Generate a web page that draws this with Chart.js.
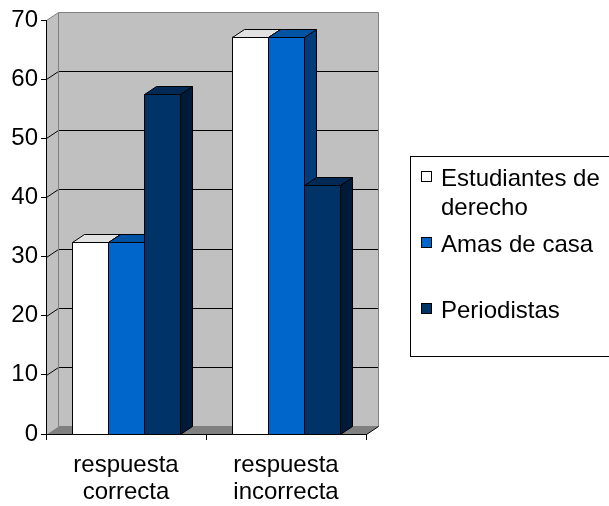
<!DOCTYPE html>
<html>
<head>
<meta charset="utf-8">
<script src="https://cdn.jsdelivr.net/npm/chart.js@4/dist/chart.umd.min.js"></script>
<style>
  html, body { margin:0; padding:0; background:#fff; width:609px; height:506px; overflow:hidden; }
  #wrap { position:relative; width:609px; height:506px; }
  canvas { position:absolute; left:0; top:0; }
  #legend { position:absolute; left:410px; top:156px; width:230px; height:201px; border:1px solid #000; box-sizing:border-box; }
  .lg-text { position:absolute; left:441px; font-family:"Liberation Sans", Arial, sans-serif; font-size:24px; line-height:29px; color:#000; white-space:nowrap; }
  .lg-mark { position:absolute; left:421px; width:11px; height:11px; border:1px solid #000; box-sizing:border-box; }
</style>
</head>
<body>
<div id="wrap">
  <canvas id="c" width="609" height="506"></canvas>
  <div id="legend"></div>
</div>
<script>
// ---- data ----
const categories = [['respuesta', 'correcta'], ['respuesta', 'incorrecta']];
const seriesNames = ['Estudiantes de derecho', 'Amas de casa', 'Periodistas'];
const estudiantes = [32.4, 67.2];
const amasDeCasa = [32.4, 67.2];
const periodistas = [57.5, 42.1];
const yTicks = [0, 10, 20, 30, 40, 50, 60, 70];

// ---- styles ----
const frontColors = ['#FFFFFF', '#0066CC', '#003366'];
const topColors   = ['#E2E2E2', '#0052A3', '#002A55'];
const sideColors  = ['#B8B8B8', '#003C7A', '#001B38'];
const DX = 12, DY = -8;
const FONT = { family: '"Liberation Sans", Arial, sans-serif', size: 24, lineHeight: 1.16 };

function poly(ctx, pts, fill) {
  ctx.beginPath();
  ctx.moveTo(pts[0][0], pts[0][1]);
  for (let i = 1; i < pts.length; i++) ctx.lineTo(pts[i][0], pts[i][1]);
  ctx.closePath();
  if (fill) { ctx.fillStyle = fill; ctx.fill(); }
  ctx.strokeStyle = '#000'; ctx.lineWidth = 1; ctx.stroke();
}

const wallsPlugin = {
  id: 'walls',
  beforeDraw(chart) {
    const ctx = chart.ctx;
    const ys = chart.scales.y, xs = chart.scales.x;
    const L = xs.left + 0.5, R = xs.right + 0.5;
    const T = ys.getPixelForValue(ys.max) + 0.5, B = ys.getPixelForValue(ys.min) + 0.5;
    ctx.save();
    // left wall
    ctx.beginPath();
    ctx.moveTo(L, T); ctx.lineTo(L + DX, T + DY); ctx.lineTo(L + DX, B + DY); ctx.lineTo(L, B); ctx.closePath();
    ctx.fillStyle = '#C0C0C0'; ctx.fill();
    // back wall
    ctx.fillStyle = '#C0C0C0';
    ctx.fillRect(L + DX, T + DY, R - L, B - T);
    // floor
    ctx.beginPath();
    ctx.moveTo(L, B); ctx.lineTo(L + DX, B + DY); ctx.lineTo(R + DX, B + DY); ctx.lineTo(R, B); ctx.closePath();
    ctx.fillStyle = '#808080'; ctx.fill();
    // gridlines
    ctx.strokeStyle = '#000'; ctx.lineWidth = 1;
    yTicks.forEach(v => {
      if (v === ys.min || v === ys.max) return;
      const py = Math.round(ys.getPixelForValue(v)) + 0.5;
      ctx.beginPath();
      ctx.moveTo(L, py); ctx.lineTo(L + DX, py + DY); ctx.lineTo(R + DX, py + DY);
      ctx.stroke();
    });
    // wall outlines (grey)
    ctx.strokeStyle = '#808080';
    ctx.beginPath();
    ctx.moveTo(L, T); ctx.lineTo(L + DX, T + DY); ctx.lineTo(R + DX, T + DY); ctx.lineTo(R + DX, B + DY);
    ctx.moveTo(L + DX, T + DY); ctx.lineTo(L + DX, B + DY); ctx.lineTo(R + DX, B + DY);
    ctx.stroke();
    ctx.strokeStyle = '#000';
    ctx.beginPath();
    ctx.moveTo(R, B); ctx.lineTo(R + DX, B + DY);
    ctx.stroke();
    ctx.restore();
  }
};

const bars3dPlugin = {
  id: 'bars3d',
  afterDatasetsDraw(chart) {
    const ctx = chart.ctx;
    ctx.save();
    ctx.lineWidth = 1; ctx.strokeStyle = '#000';
    for (let c = 0; c < categories.length; c++) {
      chart.data.datasets.forEach((ds, di) => {
        const el = chart.getDatasetMeta(di).data[c];
        const p = el.getProps(['x', 'y', 'base', 'width'], true);
        const l = Math.round(p.x - p.width / 2) + 0.5, r = Math.round(p.x + p.width / 2) + 0.5;
        const t = Math.round(p.y) + 0.5, b = Math.round(p.base) + 0.5;
        poly(ctx, [[r, t], [r + DX, t + DY], [r + DX, b + DY], [r, b]], sideColors[di]);
        poly(ctx, [[l, t], [l + DX, t + DY], [r + DX, t + DY], [r, t]], topColors[di]);
        poly(ctx, [[l, t], [r, t], [r, b], [l, b]], frontColors[di]);
      });
    }
    ctx.restore();
  }
};

const seriesData = [estudiantes, amasDeCasa, periodistas];
const chart = new Chart(document.getElementById('c'), {
  type: 'bar',
  data: {
    labels: categories,
    datasets: seriesData.map((d, i) => ({
      label: seriesNames[i], data: d,
      backgroundColor: frontColors[i], borderColor: '#000', borderWidth: 1,
      barPercentage: 1.0, categoryPercentage: 0.675
    }))
  },
  options: {
    responsive: false, animation: false,
    layout: { padding: { top: 20, right: 243, left: 0, bottom: 0 } },
    plugins: { legend: { display: false }, tooltip: { enabled: false } },
    scales: {
      x: {
        grid: { drawOnChartArea: false, tickLength: 6, color: '#000', offset: true },
        border: { color: '#000', width: 1 },
        ticks: { font: FONT, color: '#000', padding: 11, maxRotation: 0, autoSkip: false },
        afterFit(s) { s.height = 72; }
      },
      y: {
        min: 0, max: 70,
        grid: { drawOnChartArea: false, tickLength: 5, color: '#000' },
        border: { color: '#000', width: 1 },
        ticks: { stepSize: 10, font: FONT, color: '#000', padding: 3 },
        afterFit(s) { s.width = 46; }
      }
    }
  },
  plugins: [wallsPlugin, bars3dPlugin]
});

// ---- legend (HTML, real text) ----
const wrap = document.getElementById('wrap');
const legendLines = [['Estudiantes de', 'derecho'], ['Amas de casa'], ['Periodistas']];
const lineTops = [[163, 192], [229], [295]];
const markTops = [171, 237, 303];
legendLines.forEach((lines, i) => {
  const m = document.createElement('div');
  m.className = 'lg-mark';
  m.style.top = markTops[i] + 'px';
  m.style.background = frontColors[i];
  wrap.appendChild(m);
  lines.forEach((txt, j) => {
    const t = document.createElement('div');
    t.className = 'lg-text';
    t.style.top = lineTops[i][j] + 'px';
    t.textContent = txt;
    wrap.appendChild(t);
  });
});
</script>
</body>
</html>
